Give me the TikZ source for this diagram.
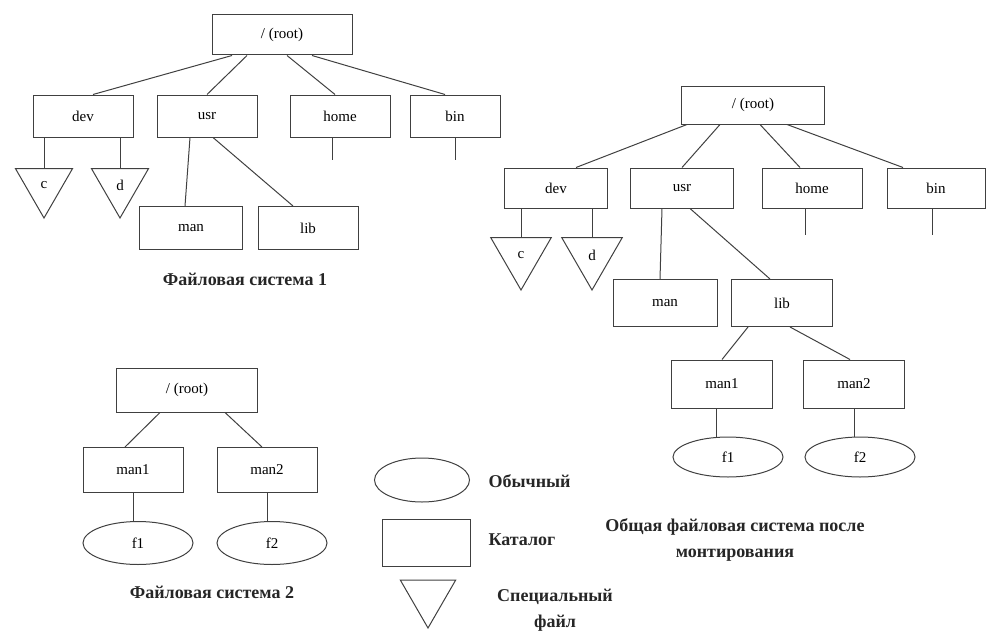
\documentclass[tikz,border=0pt]{standalone}
\usepackage{fontspec}
\setmainfont{Liberation Serif}
\usetikzlibrary{shapes.geometric}
\begin{document}
\begin{tikzpicture}[x=1pt,y=-1pt,
  ink/.style={black!75, line width=1pt},
  dirbox/.style={ink, draw, rectangle, minimum width=100pt, minimum height=42pt, inner sep=0pt, font=\fontsize{15}{15}\selectfont, text=black},
  filebox/.style={ink, draw, ellipse, minimum width=110pt, minimum height=42pt, inner sep=0pt, font=\fontsize{15}{15}\selectfont, text=black},
  specbox/.style={ink, draw, regular polygon, regular polygon sides=3, shape border rotate=180, minimum size=66pt, inner sep=0pt, font=\fontsize{15}{15}\selectfont, text=black},
  link/.style={ink},
  caption/.style={font=\fontsize{18}{26}\selectfont\bfseries, align=center, text=black!85}
]
\useasboundingbox (0,0) rectangle (987,634);

% ---------- file system 1 ----------
\node[dirbox, minimum width=140pt, minimum height=40pt] (rootA) at (282,35) {/ (root)};
\node[dirbox] (devA)  at (83,116)  {dev};
\node[dirbox] (usrA)  at (207,116) {usr};
\node[dirbox] (homeA) at (340,116) {home};
\node[dirbox, minimum width=90pt] (binA) at (455,116) {bin};
\node[specbox] (cA) at (44,185) {c};
\node[specbox] (dA) at (120,185) {d};
\node[dirbox, minimum width=103pt, minimum height=43pt] (manA) at (191,228) {man};
\node[dirbox, minimum height=43pt] (libA) at (308,228) {lib};
\node[caption] (capA) at (245,279) {Файловая система 1};
\coordinate (homeAend) at (332,160);
\coordinate (binAend) at (455,160);

\draw[link] ([xshift=-50pt]rootA.south) -- ([xshift=10pt]devA.north);
\draw[link] ([xshift=-35pt]rootA.south) -- (usrA.north);
\draw[link] ([xshift=5pt]rootA.south)   -- ([xshift=-5pt]homeA.north);
\draw[link] ([xshift=30pt]rootA.south)  -- ([xshift=-10pt]binA.north);
\draw[link] (cA.north |- devA.south) -- (cA.north);
\draw[link] (dA.north |- devA.south) -- (dA.north);
\draw[link] ([xshift=-17pt]usrA.south) -- ([xshift=-6pt]manA.north);
\draw[link] ([xshift=6pt]usrA.south) -- ([xshift=-15pt]libA.north);
\draw[link] (homeAend |- homeA.south) -- (homeAend);
\draw[link] (binAend |- binA.south) -- (binAend);

% ---------- file system 2 ----------
\node[dirbox, minimum width=141pt, minimum height=44pt] (rootB) at (187,390) {/ (root)};
\node[dirbox, minimum height=45pt] (man1B) at (133,470) {man1};
\node[dirbox, minimum height=45pt] (man2B) at (267,470) {man2};
\node[filebox, minimum height=43pt] (f1B) at (138,543) {f1};
\node[filebox, minimum height=43pt] (f2B) at (272,543) {f2};
\node[caption] (capB) at (212,592) {Файловая система 2};

\draw[link] ([xshift=-27pt]rootB.south) -- ([xshift=-8pt]man1B.north);
\draw[link] ([xshift=38pt]rootB.south) -- ([xshift=-5pt]man2B.north);
\draw[link] (man1B.south) -- (man1B.south |- f1B.north);
\draw[link] (man2B.south) -- (man2B.south |- f2B.north);

% ---------- combined tree after mounting ----------
\node[dirbox, minimum width=143pt, minimum height=38pt] (rootC) at (753,105) {/ (root)};
\node[dirbox, minimum width=103pt, minimum height=40pt] (devC)  at (556,188) {dev};
\node[dirbox, minimum width=103pt, minimum height=40pt] (usrC)  at (682,188) {usr};
\node[dirbox, minimum height=40pt] (homeC) at (812,188) {home};
\node[dirbox, minimum width=98pt, minimum height=40pt] (binC) at (936,188) {bin};
\node[specbox, minimum size=70pt] (cC) at (521,255) {c};
\node[specbox, minimum size=70pt] (dC) at (592,255) {d};
\node[dirbox, minimum width=104pt, minimum height=47pt] (manC) at (665,303) {man};
\node[dirbox, minimum width=101pt, minimum height=47pt] (libC) at (782,303) {lib};
\node[dirbox, minimum width=101pt, minimum height=48pt] (man1C) at (722,384) {man1};
\node[dirbox, minimum width=101pt, minimum height=48pt] (man2C) at (854,384) {man2};
\node[filebox, minimum height=40pt] (f1C) at (728,457) {f1};
\node[filebox, minimum height=40pt] (f2C) at (860,457) {f2};
\node[caption] (capC) at (735,540) {Общая файловая система после\\монтирования};
\coordinate (homeCend) at (805,235);
\coordinate (binCend) at (932,235);

\draw[link] ([xshift=-66pt]rootC.south) -- ([xshift=20pt]devC.north);
\draw[link] ([xshift=-33pt]rootC.south) -- (usrC.north);
\draw[link] ([xshift=7pt]rootC.south)   -- ([xshift=-12pt]homeC.north);
\draw[link] ([xshift=34pt]rootC.south)  -- ([xshift=-33pt]binC.north);
\draw[link] (cC.north |- devC.south) -- (cC.north);
\draw[link] (dC.north |- devC.south) -- (dC.north);
\draw[link] ([xshift=-20pt]usrC.south) -- ([xshift=-5pt]manC.north);
\draw[link] ([xshift=8pt]usrC.south) -- ([xshift=-12pt]libC.north);
\draw[link] (homeCend |- homeC.south) -- (homeCend);
\draw[link] (binCend |- binC.south) -- (binCend);
\draw[link] ([xshift=-34pt]libC.south) -- (man1C.north);
\draw[link] ([xshift=8pt]libC.south) -- ([xshift=-4pt]man2C.north);
\draw[link] ([xshift=-6pt]man1C.south) -- ([xshift=-6pt]man1C.south |- f1C.north);
\draw[link] (man2C.south) -- (man2C.south |- f2C.north);

% ---------- legend ----------
\node[filebox, minimum width=95pt, minimum height=44pt] (legFile) at (422,480) {};
\node[dirbox, minimum width=88pt, minimum height=47pt] (legDir) at (426,543) {};
\node[specbox, minimum size=64pt] (legSpec) at (428,596) {};
\node[caption, anchor=west] (legFileText) at (485,481) {Обычный};
\node[caption, anchor=west] (legDirText) at (485,540) {Каталог};
\node[caption] (legSpecText) at (555,610) {Специальный\\файл};
\end{tikzpicture}
\end{document}
